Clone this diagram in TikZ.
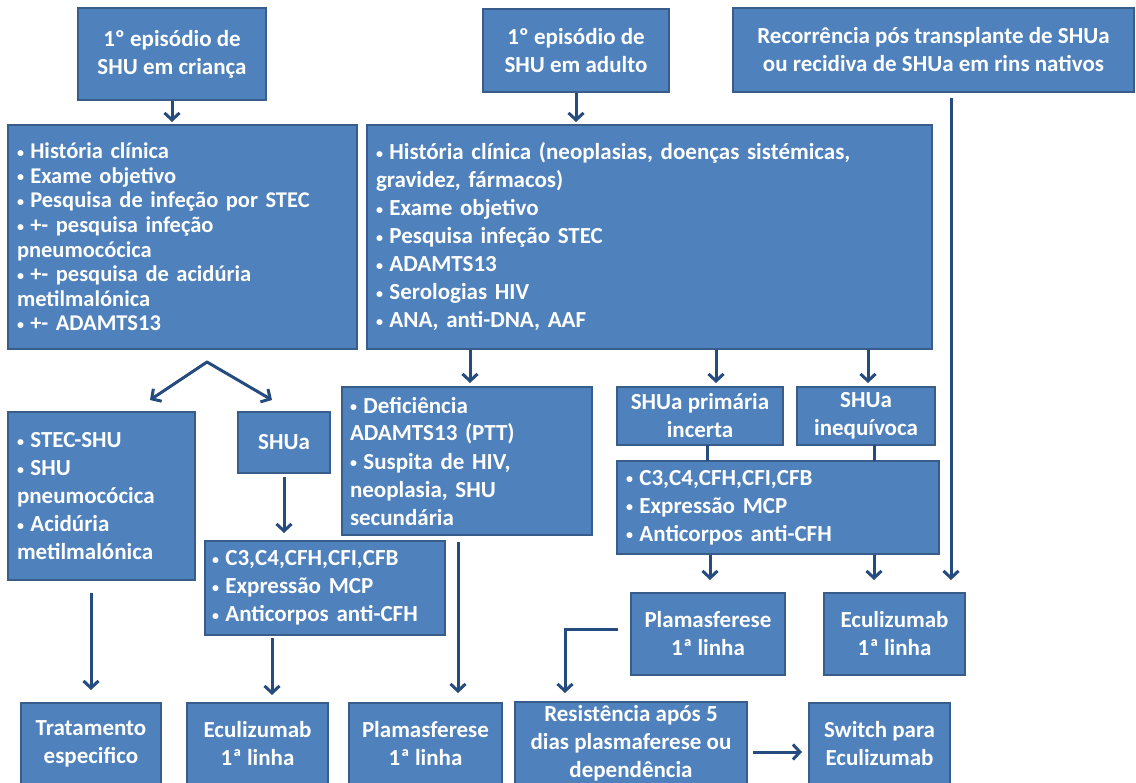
\documentclass[tikz,border=0pt]{standalone}
\usepackage{fontspec}
\setmainfont{Carlito}
\usetikzlibrary{arrows.meta}
\definecolor{boxfill}{HTML}{4F81BD}
\definecolor{boxline}{HTML}{385D8A}
\definecolor{arrc}{HTML}{264B7E}
\newcommand\bu{{\fontsize{14}{14}\selectfont\raisebox{0.2ex}{•}}\hspace{0.28em}}
\tikzset{
  bx/.style={draw=boxline, line width=1.5pt, fill=boxfill, text=white,
    font=\bfseries\fontsize{23}{28}\selectfont, outer sep=0pt, inner sep=2pt, align=center},
  lst/.style={bx, align=left, inner xsep=#1},
  arr/.style={draw=arrc, line width=3pt, -{Straight Barb[length=7pt,width=15pt]}},
  arrtwo/.style={draw=arrc, line width=3pt, line join=round, {Straight Barb[length=7pt,width=15pt]}-{Straight Barb[length=7pt,width=15pt]}},
  ln/.style={draw=arrc, line width=3pt},
}
\begin{document}
\begin{tikzpicture}[x=1pt,y=-1pt]
\useasboundingbox[fill=white] (0,0) rectangle (1136,783);
% top row
\node[bx, minimum width=188pt, minimum height=92pt] (c1) at (172,54) {1º episódio de\\SHU em criança};
\node[bx, minimum width=186pt, minimum height=83pt] (a1) at (576,50.5) {1º episódio de\\SHU em adulto};
\node[bx, minimum width=401pt, minimum height=84pt] (rec) at (933.5,50) {Recorrência pós transplante de SHUa\\ou recidiva de SHUa em rins nativos};
% lists
\node[lst=9pt, text width=331pt, minimum height=224pt, font=\bfseries\fontsize{22.5}{24.6}\selectfont] (clist) at (182.5,237)
 {\bu História clínica\\\bu Exame objetivo\\\bu Pesquisa de infeção por STEC\\\bu +- pesquisa infeção\\pneumocócica\\\bu +- pesquisa de acidúria\\metilmalónica\\\bu +- ADAMTS13};
\node[lst=9pt, text width=547pt, minimum height=224pt] (alist) at (649.5,237)
 {\bu História clínica (neoplasias, doenças sistémicas,\\gravidez, fármacos)\\\bu Exame objetivo\\\bu Pesquisa infeção STEC\\\bu ADAMTS13\\\bu Serologias HIV\\\bu ANA, anti-DNA, AAF};
% middle row
\node[lst=9pt, text width=169pt, minimum height=168pt] (stec) at (101.5,496)
 {\bu STEC-SHU\\\bu SHU\\pneumocócica\\\bu Acidúria\\metilmalónica};
\node[bx, minimum width=92pt, minimum height=61pt] (shua) at (284,442.5) {SHUa};
\node[lst=8pt, text width=234pt, minimum height=148pt] (defi) at (467,461)
 {\bu Deficiência\\ADAMTS13 (PTT)\\\bu Suspita de HIV,\\neoplasia, SHU\\secundária};
\node[bx, minimum width=166pt, minimum height=58pt] (prim) at (700,416) {SHUa primária\\incerta};
\node[bx, minimum width=138pt, minimum height=58pt] (ineq) at (866,416) {SHUa\\inequívoca};
\node[lst=9pt, text width=304pt, minimum height=93pt] (c3r) at (778,507.5)
 {\bu C3,C4,CFH,CFI,CFB\\\bu Expressão MCP\\\bu Anticorpos anti-CFH};
\node[lst=7pt, text width=226pt, minimum height=94pt] (c3l) at (325,588)
 {\bu C3,C4,CFH,CFI,CFB\\\bu Expressão MCP\\\bu Anticorpos anti-CFH};
\node[bx, minimum width=154pt, minimum height=82pt] (plR) at (708,634) {Plamasferese\\1ª linha};
\node[bx, minimum width=141pt, minimum height=82pt] (ecR) at (894.5,634) {Eculizumab\\1ª linha};
% bottom row
\node[bx, minimum width=140pt, minimum height=82pt] (trat) at (91,744) {Tratamento\\especifico};
\node[bx, minimum width=141pt, minimum height=82pt] (ecL) at (257.5,744) {Eculizumab\\1ª linha};
\node[bx, minimum width=153pt, minimum height=82pt] (plL) at (425.5,744) {Plamasferese\\1ª linha};
\node[bx, minimum width=232pt, minimum height=83pt] (res) at (631,743.5) {Resistência após 5\\dias plasmaferese ou\\dependência};
\node[bx, minimum width=141pt, minimum height=82pt] (sw) at (879.5,744) {Switch para\\Eculizumab};
% connectors
\draw[arr, shorten <=1pt, shorten >=3pt] (c1.south) -- (c1.south |- clist.north);
\draw[arr, shorten <=1pt, shorten >=3pt] (a1.south) -- (a1.south |- alist.north);
\draw[arr, shorten <=6pt, shorten >=13pt] ([xshift=17.5pt]rec.south) -- ([xshift=56.5pt]ecR.north);
\coordinate (apex) at (207,362);
\coordinate (chl) at (150,400);
\coordinate (chr) at (272,400);
\draw[arrtwo] (chl) -- (apex) -- (chr);
\draw[arr, shorten <=4pt, shorten >=8pt] (shua.south) -- (shua.south |- c3l.north);
\draw[arr, shorten <=13pt, shorten >=13pt] (trat.north |- stec.south) -- (trat.north);
\draw[arr, shorten <=3pt, shorten >=8pt] ([xshift=14.5pt]ecL.north |- c3l.south) -- ([xshift=14.5pt]ecL.north);
\draw[arr, shorten <=7pt, shorten >=10pt] ([xshift=-9pt]defi.south) -- ([xshift=-9pt]defi.south |- plL.north);
\draw[arr, shorten <=1pt, shorten >=4pt] ([xshift=3pt]defi.north |- alist.south) -- ([xshift=3pt]defi.north);
\draw[arr, shorten <=1pt, shorten >=4pt] ([xshift=16pt]prim.north |- alist.south) -- ([xshift=16pt]prim.north);
\draw[arr, shorten <=1pt, shorten >=4pt] ([xshift=2pt]ineq.north |- alist.south) -- ([xshift=2pt]ineq.north);
\draw[ln] ([xshift=7pt]prim.south) -- ([xshift=7pt]prim.south |- c3r.north);
\draw[ln] ([xshift=8pt]ineq.south) -- ([xshift=8pt]ineq.south |- c3r.north);
\draw[arr, shorten <=1pt, shorten >=13pt] ([xshift=2pt]plR.north |- c3r.south) -- ([xshift=2pt]plR.north);
\draw[arr, shorten <=1pt, shorten >=13pt] ([xshift=-20.5pt]ecR.north |- c3r.south) -- ([xshift=-20.5pt]ecR.north);
\draw[arr, shorten >=9pt] ([xshift=-13pt,yshift=5pt]plR.west) -| ([xshift=-66pt]res.north);
\draw[arr, shorten <=6pt, shorten >=7pt] ([yshift=-8.5pt]res.east) -- ([yshift=-8.5pt]res.east -| sw.west);
\end{tikzpicture}
\end{document}
